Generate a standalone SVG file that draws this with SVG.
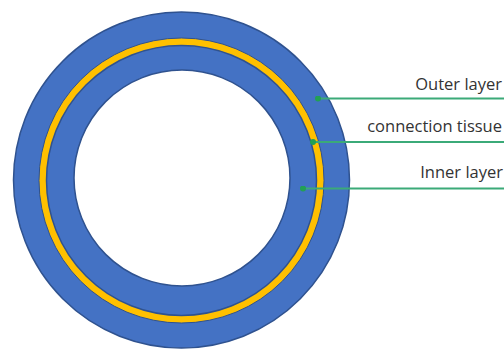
<svg xmlns="http://www.w3.org/2000/svg" width="504" height="349" viewBox="0 0 504 349">
<style>
.blue{fill:#4472C4;stroke:#2F528F;stroke-width:1.5}
.yel{fill:#FFC000;stroke:#2F528F;stroke-width:1}
.hole{fill:#FFFFFF;stroke:#2F528F;stroke-width:1.5}
.lbl{font-family:"Open Sans","Liberation Sans",sans-serif;font-size:16.5px;fill:#333333;text-anchor:end}
.ln{stroke:#3BAA78;stroke-width:2;fill:none}
</style>
<defs>
<marker id="dot" viewBox="0 0 6 6" refX="3" refY="3" markerWidth="3" markerHeight="3" markerUnits="strokeWidth">
<circle cx="3" cy="3" r="3" fill="#22A055"/>
</marker>
</defs>
<g id="tube">
<circle class="blue" cx="181.5" cy="180" r="168"/>
<circle class="yel" cx="181.5" cy="180.5" r="142.5"/>
<circle class="blue" cx="181.5" cy="180.5" r="135"/>
<circle class="hole" cx="182" cy="178" r="108"/>
</g>
<g id="connectors">
<line class="ln" x1="504" y1="98.5" x2="318" y2="98.5" marker-end="url(#dot)"/>
<line class="ln" x1="504" y1="142" x2="313" y2="142" marker-end="url(#dot)"/>
<line class="ln" x1="504" y1="188.5" x2="303" y2="188.5" marker-end="url(#dot)"/>
</g>
<g id="label-outer"><text class="lbl" x="502" y="90">Outer layer</text></g>
<g id="label-connection"><text class="lbl" x="502" y="132">connection tissue</text></g>
<g id="label-inner"><text class="lbl" x="503" y="178">Inner layer</text></g>
</svg>
